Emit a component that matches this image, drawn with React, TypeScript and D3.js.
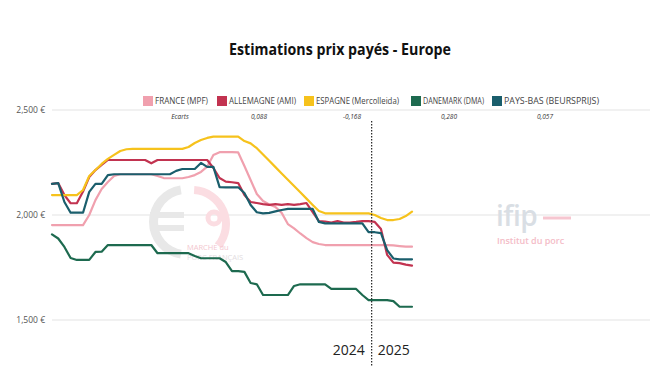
import * as d3 from "d3";
import React from "react";

const W = 650;
const H = 366;

// weeks: all of 2024 then the first weeks of 2025
const weeks2024 = 52;
const weeks2025 = 7;
const weeks: string[] = [];
for (let i = 1; i <= weeks2024; i++) weeks.push(`2024-S${i}`);
for (let i = 1; i <= weeks2025; i++) weeks.push(`2025-S${i}`);

const france = [
  1952, 1952, 1952, 1952, 1952, 1952, 2000, 2071, 2124, 2157,
  2186, 2194, 2194, 2194, 2194, 2194, 2194, 2186, 2176, 2175,
  2175, 2175, 2181, 2190, 2205, 2230, 2286, 2299, 2299, 2299,
  2298, 2233, 2167, 2100, 2067, 2050, 2038, 2010, 1957, 1936,
  1912, 1890, 1871, 1862, 1857, 1857, 1857, 1857, 1857, 1857,
  1857, 1857, 1857, 1857, 1857, 1855, 1852, 1849, 1849,
];
const allemagne = [
  2148, 2152, 2095, 2056, 2056, 2112, 2181, 2214, 2238, 2262,
  2262, 2262, 2262, 2262, 2262, 2262, 2246, 2262, 2262, 2262,
  2262, 2262, 2262, 2262, 2262, 2262, 2224, 2176, 2159, 2156,
  2152, 2095, 2062, 2057, 2052, 2048, 2052, 2048, 2052, 2048,
  2052, 2057, 2014, 1971, 1969, 1964, 1971, 1964, 1964, 1967,
  1971, 1971, 1967, 1933, 1810, 1773, 1771, 1764, 1759,
];
const espagne = [
  2095, 2095, 2095, 2095, 2095, 2119, 2186, 2214, 2243, 2267,
  2286, 2305, 2313, 2315, 2315, 2315, 2315, 2315, 2315, 2315,
  2315, 2315, 2324, 2343, 2357, 2367, 2373, 2373, 2373, 2373,
  2373, 2352, 2341, 2318, 2288, 2258, 2228, 2198, 2168, 2138,
  2108, 2078, 2048, 2019, 2008, 2008, 2008, 2008, 2008, 2008,
  2008, 2008, 2000, 1986, 1976, 1976, 1981, 1995, 2016,
];
const danemark = [
  1908, 1888, 1848, 1795, 1786, 1786, 1786, 1824, 1825, 1857,
  1857, 1857, 1857, 1857, 1857, 1857, 1857, 1818, 1818, 1818,
  1818, 1818, 1818, 1805, 1794, 1794, 1794, 1794, 1776, 1733,
  1733, 1729, 1676, 1670, 1619, 1619, 1619, 1619, 1619, 1662,
  1670, 1670, 1670, 1670, 1670, 1648, 1648, 1648, 1648, 1648,
  1619, 1595, 1595, 1595, 1595, 1590, 1563, 1563, 1563,
];
const paysBas = [
  2148, 2152, 2062, 2011, 2011, 2011, 2110, 2148, 2148, 2190,
  2194, 2194, 2194, 2194, 2194, 2194, 2194, 2194, 2194, 2194,
  2210, 2219, 2219, 2219, 2248, 2229, 2229, 2133, 2132, 2132,
  2132, 2105, 2048, 2013, 2008, 2010, 2017, 2024, 2029, 2029,
  2029, 2029, 2029, 1967, 1960, 1960, 1960, 1960, 1960, 1960,
  1960, 1918, 1918, 1914, 1833, 1793, 1789, 1789, 1789,
];

const seriesNames = [
  "FRANCE (MPF)",
  "ALLEMAGNE (AMI)",
  "ESPAGNE (Mercolleida)",
  "DANEMARK (DMA)",
  "PAYS-BAS (BEURSPRIJS)",
];
const seriesColors = ["#f0a0ae", "#c23350", "#f6c21c", "#1d6a4f", "#1a5e6c"];
const seriesValues = [france, allemagne, espagne, danemark, paysBas];

const ecartLabels = ["0,088", "-0,168", "0,280", "0,057"];
const yTicks = [1500, 2000, 2500];
const years = ["2024", "2025"];

const FONT = "'Open Sans', 'Noto Sans', sans-serif";

export default function App() {
  const x = d3.scalePoint<number>().domain(d3.range(weeks.length)).range([52, 412]);
  const y = d3.scaleLinear().domain([1500, 2500]).range([320, 110]);
  const line = d3
    .line<number>()
    .x((_, i) => x(i) as number)
    .y((d) => y(d))
    .curve(d3.curveLinear);

  const step = x.step();
  const splitX = (x(weeks2024 - 1) as number) + step / 2;
  const yearCenters = [splitX - 23, splitX + 22];

  // legend layout (square x, text width)
  const legendX = [143, 217, 304, 411, 492];
  const legendW = [53, 67, 83, 61, 95];
  const ecartX = [180, 259, 352, 449, 545];

  const fmt = (v: number) => d3.format(",")(v) + " €";

  return (
    <svg
      width={W}
      height={H}
      style={{ position: "absolute", left: 0, top: 0, background: "#fff" }}
      fontFamily={FONT}
    >
      <rect width={W} height={H} fill="#fff" />

      <text x={229} y={55} fontSize={16} fontWeight={700} fill="#111" textLength={222} lengthAdjust="spacingAndGlyphs">
        Estimations prix payés - Europe
      </text>

      {/* grid + y axis */}
      {yTicks.map((t) => (
        <g key={t}>
          <line x1={52} x2={W} y1={y(t)} y2={y(t)} stroke="#e3e3e3" strokeWidth={1} />
          <text x={45} y={y(t)} dy="0.35em" textAnchor="end" fontSize={8.5} fill="#555">
            {fmt(t)}
          </text>
        </g>
      ))}

      {/* watermark left */}
      <g>
        <path
          d={d3.arc()({ innerRadius: 28, outerRadius: 37, startAngle: Math.PI * 1.05, endAngle: Math.PI * 1.95 }) || ""}
          transform="translate(186,222)"
          fill="#e8e8e8"
        />
        <rect x={150} y={212} width={34} height={6} fill="#e8e8e8" />
        <rect x={150} y={225} width={34} height={6} fill="#e8e8e8" />
        <path
          d={d3.arc()({ innerRadius: 30, outerRadius: 38, startAngle: Math.PI * 0.02, endAngle: Math.PI * 0.72 }) || ""}
          transform="translate(192,224)"
          fill="#fbdde2"
        />
        <circle cx={214} cy={218} r={6} fill="none" stroke="#fbdde2" strokeWidth={5} />
        <text x={187} y={250} fontSize={7.5} fill="#f3c7cf">MARCHÉ du</text>
        <text x={187} y={260} fontSize={7.5} fill="#e3dde1">PORC FRANÇAIS</text>
      </g>

      {/* watermark right */}
      <g>
        <text x={496} y={226} fontSize={28} fontWeight={600} fill="#d9dee4" letterSpacing={-0.5}>
          ifip
        </text>
        <line x1={543} x2={571} y1={218} y2={218} stroke="#f6c6d0" strokeWidth={3} />
        <text x={497} y={244} fontSize={9} fontWeight={600} fill="#f4bcc7">
          Institut du porc
        </text>
      </g>

      {/* legend */}
      {seriesNames.map((name, i) => (
        <g key={name} transform={`translate(${legendX[i]},96)`}>
          <rect width={10} height={10} fill={seriesColors[i]} />
          <text x={12} y={5} dy="0.35em" fontSize={8.5} fill="#444" textLength={legendW[i]} lengthAdjust="spacingAndGlyphs">
            {name}
          </text>
        </g>
      ))}

      {/* écarts row */}
      <text x={ecartX[0]} y={117} dy="0.35em" textAnchor="middle" fontSize={6.5} fontStyle="italic" fill="#333">
        Ecarts
      </text>
      {ecartLabels.map((t, i) => (
        <text key={t} x={ecartX[i + 1]} y={117} dy="0.35em" textAnchor="middle" fontSize={6.5} fontStyle="italic" fill="#333">
          {t}
        </text>
      ))}

      {/* series */}
      {seriesValues.map((vals, i) => (
        <path
          key={seriesNames[i]}
          d={line(vals) || ""}
          fill="none"
          stroke={seriesColors[i]}
          strokeWidth={2.2}
          strokeLinejoin="round"
          strokeLinecap="round"
        />
      ))}

      {/* year separator */}
      <line x1={splitX} x2={splitX} y1={121} y2={H} stroke="#222" strokeWidth={1.2} strokeDasharray="1.5,1.5" />
      {years.map((yr, i) => (
        <text key={yr} x={yearCenters[i]} y={350} dy="0.35em" textAnchor="middle" fontSize={14} fill="#222">
          {yr}
        </text>
      ))}
    </svg>
  );
}
